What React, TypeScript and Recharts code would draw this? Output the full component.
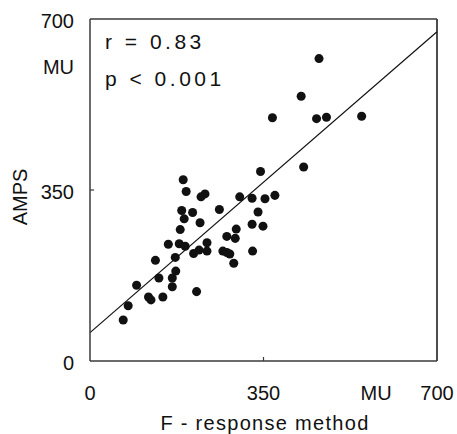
import { ScatterChart, Scatter, XAxis, YAxis, ZAxis, ReferenceLine } from 'recharts';

// AMPS vs F-response MU estimates

const fResponse = [
  67, 77, 94, 118, 123, 147, 132, 139, 158, 166, 166, 173, 172, 182, 180, 192, 185, 190,
  188, 194, 207, 209, 215, 222, 220, 224, 232, 236, 236, 261, 268, 276, 282, 276, 293, 295,
  290, 302, 327, 328, 327, 339, 349, 344, 353, 373, 368, 426, 431, 457, 477, 462, 548,
];
const amps = [
  84, 113, 155, 131, 125, 131, 206, 170, 239, 152, 170, 184, 212, 269, 240, 235, 308, 291,
  371, 347, 304, 220, 142, 283, 227, 336, 342, 242, 225, 310, 225, 222, 219, 255, 251, 270,
  200, 336, 333, 225, 280, 305, 276, 388, 332, 339, 498, 542, 397, 496, 499, 619, 501,
];

const xTicks = [0, 350, 577, 700];
const xTickLabels = ['0', '350', 'MU', '700'];
const yTicks = [0, 350, 606, 700];
const yTickLabels = ['0', '350', 'MU', '700'];
const markedTicks = [350];

// regression line end points
const regression = [
  { x: 0, y: 58 },
  { x: 700, y: 674 },
];

const points = fResponse.map((x, i) => ({ x, y: amps[i] }));

const font = '"Liberation Sans", Arial, sans-serif';
const ink = '#111';
const frame = '#3a3a3a';

function XTick(props: any) {
  const { x, y, payload } = props;
  const i = xTicks.indexOf(payload.value);
  return (
    <g>
      {markedTicks.includes(payload.value) && (
        <line x1={x} y1={y} x2={x} y2={y - 4} stroke={frame} strokeWidth={1.2} />
      )}
      <text x={x} y={y + 39} textAnchor="middle" fontSize={20} fontFamily={font} fill={ink}>
        {xTickLabels[i]}
      </text>
    </g>
  );
}

function YTick(props: any) {
  const { x, y, payload } = props;
  const i = yTicks.indexOf(payload.value);
  return (
    <g>
      {markedTicks.includes(payload.value) && (
        <line x1={x} y1={y} x2={x + 4} y2={y} stroke={frame} strokeWidth={1.2} />
      )}
      <text x={x - 16} y={y + 9} textAnchor="end" fontSize={20} fontFamily={font} fill={ink}>
        {yTickLabels[i]}
      </text>
    </g>
  );
}

export default function App() {
  return (
    <div style={{ position: 'absolute', left: 0, top: 0, width: 457, height: 434, background: '#fff' }}>
      <ScatterChart width={457} height={434} margin={{ top: 19, right: 20, bottom: 72, left: 89 }}>
        <XAxis
          type="number"
          dataKey="x"
          domain={[0, 700]}
          ticks={xTicks}
          interval={0}
          height={1}
          tickSize={0}
          tickMargin={0}
          tickLine={false}
          tick={<XTick />}
          axisLine={{ stroke: frame, strokeWidth: 1.5 }}
          allowDataOverflow
        />
        <YAxis
          type="number"
          dataKey="y"
          domain={[0, 700]}
          ticks={yTicks}
          interval={0}
          width={1}
          tickSize={0}
          tickMargin={0}
          tickLine={false}
          tick={<YTick />}
          axisLine={{ stroke: frame, strokeWidth: 1.5 }}
          allowDataOverflow
        />
        <ZAxis range={[55, 55]} />
        <ReferenceLine y={700} stroke={frame} strokeWidth={1.5} />
        <ReferenceLine x={700} stroke={frame} strokeWidth={1.8} />
        <ReferenceLine segment={regression} stroke={ink} strokeWidth={1.2} />
        <Scatter data={points} fill={ink} isAnimationActive={false} />
      </ScatterChart>
      <svg
        width={457}
        height={434}
        style={{ position: 'absolute', left: 0, top: 0, pointerEvents: 'none' }}
      >
        <g fontFamily={font} fill={ink}>
          <text x={105} y={49} fontSize={21} letterSpacing={3.5}>r = 0.83</text>
          <text x={105} y={86} fontSize={21} letterSpacing={3.5}>p &lt; 0.001</text>
          <text x={27} y={197} fontSize={20} textAnchor="middle" transform="rotate(-90 27 197)">
            AMPS
          </text>
          <text x={265} y={430} fontSize={20} textAnchor="middle" letterSpacing={1.3}>
            F - response method
          </text>
        </g>
      </svg>
    </div>
  );
}
